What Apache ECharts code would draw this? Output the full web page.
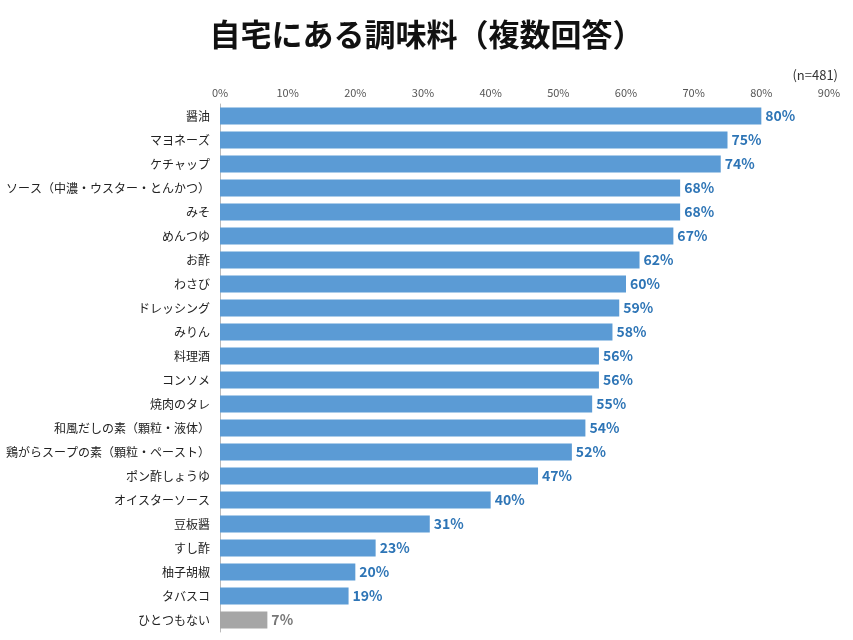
<!DOCTYPE html>
<html><head><meta charset="utf-8">
<script src="https://cdn.jsdelivr.net/npm/echarts@6/dist/echarts.min.js"></script>
<style>html,body{margin:0;padding:0;background:#fff}#c{width:853px;height:640px}</style>
</head><body><div id="c"></div>
<script>
const categories = ["醤油","マヨネーズ","ケチャップ","ソース（中濃・ウスター・とんかつ）","みそ","めんつゆ","お酢","わさび","ドレッシング","みりん","料理酒","コンソメ","焼肉のタレ","和風だしの素（顆粒・液体）","鶏がらスープの素（顆粒・ペースト）","ポン酢しょうゆ","オイスターソース","豆板醤","すし酢","柚子胡椒","タバスコ","ひとつもない"];
const values = [80,75,74,68,68,67,62,60,59,58,56,56,55,54,52,47,40,31,23,20,19,7];
const xTicks = [0,10,20,30,40,50,60,70,80,90];
const chart = echarts.init(document.getElementById('c'));
const font = '"Noto Sans CJK JP", sans-serif';
chart.setOption({
  animation:false,
  textStyle:{fontFamily:font},
  title:[{text:'自宅にある調味料（複数回答）',left:'center',top:14,textStyle:{fontSize:31,fontWeight:'bold',color:'#111',fontFamily:font}},
         {text:'(n=481)',right:10,top:64,textStyle:{fontSize:13,fontWeight:'normal',color:'#333',fontFamily:font}}],
  grid:{left:220,right:24,top:104,bottom:8,containLabel:false},
  xAxis:{type:'value',position:'top',min:0,max:90,interval:10,
    axisLabel:{formatter:v=>v+'%',color:'#555',fontSize:11,margin:6},
    axisLine:{show:false},axisTick:{show:false},splitLine:{show:false}},
  yAxis:{type:'category',inverse:true,data:categories,
    axisLabel:{color:'#222',fontSize:12,margin:10},
    axisLine:{show:true,lineStyle:{color:'#bbb'}},axisTick:{show:false}},
  series:[{type:'bar',barWidth:17,
    data:values.map((v,i)=>({value:v,itemStyle:{color:i===values.length-1?'#a6a6a6':'#5b9bd5'},
      label:{color:i===values.length-1?'#777':'#2e75b6'}})),
    label:{show:true,position:'right',formatter:'{c}%',fontSize:14,fontWeight:'bold',distance:4}}]
});
</script></body></html>
